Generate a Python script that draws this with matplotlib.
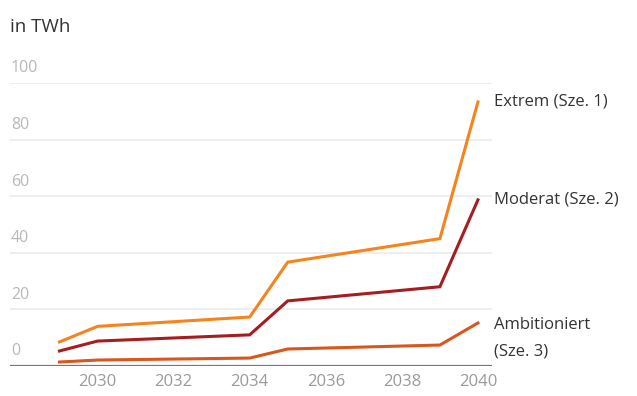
import matplotlib
matplotlib.use('Agg')
import matplotlib.pyplot as plt

years = [2029, 2030, 2034, 2035, 2039, 2040]
extrem = [8.5, 14.0, 17.3, 36.7, 45.0, 93.3]
moderat = [5.3, 8.8, 11.0, 23.0, 28.0, 58.7]
ambitioniert = [1.4, 2.1, 2.8, 6.0, 7.4, 15.2]

y_ticks = [0, 20, 40, 60, 80, 100]
x_ticks = [2030, 2032, 2034, 2036, 2038, 2040]

plt.rcParams['font.family'] = ['Open Sans', 'DejaVu Sans']

fig = plt.figure(figsize=(6.37, 3.96), dpi=100)
ax = fig.add_axes([0.0157, 0.0758, 0.7567, 0.7146])

ax.plot(years, extrem, color='#f5841f', lw=2.2, solid_joinstyle='miter')
ax.plot(years, moderat, color='#a51d1f', lw=2.2, solid_joinstyle='miter')
ax.plot(years, ambitioniert, color='#d9561c', lw=2.2, solid_joinstyle='miter')

ax.set_xlim(2027.7, 2040.37)
ax.set_ylim(0, 100)

# gridlines with labels sitting on top of them
for v in y_ticks:
    if v == 0:
        ax.axhline(v, color='#777777', lw=1.6, zorder=3)
    else:
        ax.axhline(v, color='#ebebeb', lw=1.2, zorder=0)
    ax.text(2027.72, v + 2.3, str(v), color='#b8b8b8', fontsize=11.5,
            ha='left', va='bottom')

ax.set_yticks([])
ax.set_xticks(x_ticks)
ax.set_xticklabels([str(x) for x in x_ticks], color='#9a9a9a', fontsize=12)
ax.tick_params(axis='x', length=0, pad=6)
for s in ax.spines.values():
    s.set_visible(False)

lbl = dict(color='#333333', fontsize=12, ha='left', va='center', clip_on=False)
ax.text(2040.42, 93.5, 'Extrem (Sze. 1)', **lbl)
ax.text(2040.42, 58.7, 'Moderat (Sze. 2)', **lbl)
ax.text(2040.42, 14.5, 'Ambitioniert', **lbl)
ax.text(2040.42, 5.0, '(Sze. 3)', **lbl)

fig.text(10 / 637, 1 - 27 / 396, 'in TWh', color='#333333', fontsize=13.5,
         ha='left', va='center')

fig.savefig('out.png', dpi=100)
